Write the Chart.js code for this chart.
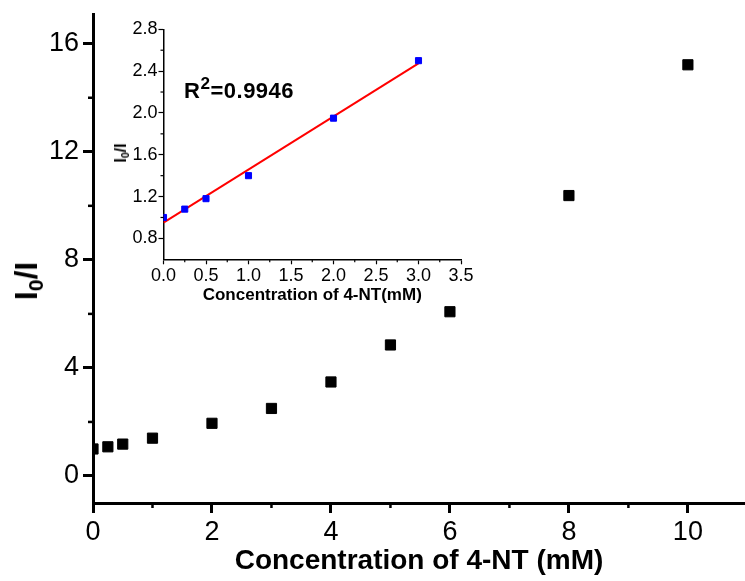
<!DOCTYPE html>
<html><head><meta charset="utf-8">
<script src="https://cdn.jsdelivr.net/npm/chart.js@4.4.0/dist/chart.umd.min.js"></script>
<style>
html,body{margin:0;padding:0;background:#fff;}
#wrap{position:relative;width:745px;height:581px;overflow:hidden;font-family:"Liberation Sans",Arial,sans-serif;}
#main{position:absolute;left:0;top:0;}
#inset{position:absolute;left:100px;top:10px;}
.lbl{position:absolute;font-weight:bold;color:#000;white-space:nowrap;line-height:1;font-family:"Liberation Sans",Arial,sans-serif;}
.lbl sub{font-size:0.66em;vertical-align:baseline;position:relative;top:0.3em;}
.lbl sup{font-size:0.78em;vertical-align:baseline;position:relative;top:-0.55em;}
#ytitle{font-size:32px;left:26px;top:281px;transform:translate(-50%,-50%) rotate(-90deg);}
#iytitle{font-size:16px;left:121px;top:153px;transform:translate(-50%,-50%) rotate(-90deg);}
#r2{font-size:22px;left:184px;top:80px;letter-spacing:0.5px;}
</style></head>
<body>
<div id="wrap">
<canvas id="main" width="745" height="581"></canvas>
<canvas id="inset" width="380" height="300"></canvas>
<div id="ytitle" class="lbl">I<sub>0</sub>/I</div>
<div id="iytitle" class="lbl">I<sub>0</sub>/I</div>
<div id="r2" class="lbl">R<sup>2</sup>=0.9946</div>
</div>
<script>
// ---- data ----
const mainX = [0, 0.25, 0.5, 1, 2, 3, 4, 5, 6, 8, 10];
const mainY = [1.0, 1.08, 1.18, 1.40, 1.95, 2.50, 3.48, 4.85, 6.08, 10.38, 15.22];
const insetX = [0, 0.25, 0.5, 1, 2, 3];
const insetY = [1.0, 1.08, 1.18, 1.40, 1.95, 2.50];
const fitX = [0, 3];
const fitY = [0.95, 2.475];
// ---- ticks ----
const mainXTicks = [0, 2, 4, 6, 8, 10];
const mainXMinor = [1, 3, 5, 7, 9];
const mainYTicks = [0, 4, 8, 12, 16];
const mainYMinor = [2, 6, 10, 14];
const insetXTicks = [0, 0.5, 1.0, 1.5, 2.0, 2.5, 3.0, 3.5];
const insetXMinor = [0.25, 0.75, 1.25, 1.75, 2.25, 2.75, 3.25];
const insetYTicks = [0.8, 1.2, 1.6, 2.0, 2.4, 2.8];
const insetYMinor = [1.0, 1.4, 1.8, 2.2, 2.6];

const FAM = '"Liberation Sans", Arial, sans-serif';
const pts = (xs, ys) => xs.map((x, i) => ({x: x, y: ys[i]}));

const minorTicks = {
  id: 'minorTicks',
  afterDraw(chart, args, o) {
    const ctx = chart.ctx, xs = chart.scales.x, ys = chart.scales.y;
    ctx.save();
    ctx.strokeStyle = '#000';
    ctx.lineWidth = o.width;
    o.x.forEach(v => { const p = xs.getPixelForValue(v); ctx.beginPath(); ctx.moveTo(p, xs.top); ctx.lineTo(p, xs.top + o.len); ctx.stroke(); });
    o.y.forEach(v => { const p = ys.getPixelForValue(v); ctx.beginPath(); ctx.moveTo(ys.right, p); ctx.lineTo(ys.right - o.len, p); ctx.stroke(); });
    ctx.restore();
  }
};

function fixX(h) { return s => { s.height = h; s.paddingLeft = 0; s.paddingRight = 0; }; }
function fixY(w) { return s => { s.width = w; s.paddingTop = 0; s.paddingBottom = 0; }; }
function setTicks(arr) { return s => { s.ticks = arr.map(v => ({value: v})); }; }

new Chart(document.getElementById('main'), {
  type: 'scatter',
  data: { datasets: [{
    data: pts(mainX, mainY),
    pointStyle: 'rect', pointRadius: 7.2, pointHoverRadius: 7.2,
    backgroundColor: '#000', borderColor: '#000', borderWidth: 1,
    clip: {left: 0, top: false, right: false, bottom: false}
  }]},
  options: {
    responsive: false, animation: false, devicePixelRatio: 1,
    layout: { autoPadding: false, padding: {left: 0, top: 14, right: 0, bottom: 0} },
    plugins: { legend: {display: false}, tooltip: {enabled: false},
      minorTicks: {x: mainXMinor, y: mainYMinor, len: 5, width: 2.5} },
    scales: {
      x: { type: 'linear', min: 0, max: 10.96,
        afterBuildTicks: setTicks(mainXTicks), afterFit: fixX(78),
        border: {display: true, width: 3, color: '#000'},
        grid: {display: true, drawOnChartArea: false, drawTicks: true, tickLength: 10, tickWidth: 3, tickColor: '#000'},
        ticks: {color: '#000', font: {family: FAM, size: 27}, padding: 3, maxRotation: 0, autoSkip: false},
        title: {display: true, text: 'Concentration of 4-NT (mM)', color: '#000', font: {family: FAM, size: 28, weight: 'bold'}, padding: {top: 0, bottom: 3}}
      },
      y: { type: 'linear', min: -1, max: 17.1,
        afterBuildTicks: setTicks(mainYTicks), afterFit: fixY(93),
        border: {display: true, width: 3, color: '#000'},
        grid: {display: true, drawOnChartArea: false, drawTicks: true, tickLength: 10, tickWidth: 3, tickColor: '#000'},
        ticks: {color: '#000', font: {family: FAM, size: 27}, padding: 4, autoSkip: false}
      }
    }
  },
  plugins: [minorTicks]
});

new Chart(document.getElementById('inset'), {
  type: 'scatter',
  data: { datasets: [{
    data: pts(insetX, insetY),
    pointStyle: 'rect', pointRadius: 4.3, pointHoverRadius: 4.3,
    backgroundColor: '#0000ff', borderColor: '#0000ff', borderWidth: 1,
    clip: {left: 0, top: false, right: false, bottom: false}
  }, {
    data: pts(fitX, fitY),
    showLine: true, borderColor: '#ff0000', borderWidth: 2, pointRadius: 0, pointHoverRadius: 0
  }]},
  options: {
    responsive: false, animation: false, devicePixelRatio: 1,
    layout: { autoPadding: false, padding: {left: 0, top: 19.3, right: 19, bottom: 0} },
    plugins: { legend: {display: false}, tooltip: {enabled: false},
      minorTicks: {x: insetXMinor, y: insetYMinor, len: 3, width: 1.2} },
    scales: {
      x: { type: 'linear', min: 0, max: 3.5,
        afterBuildTicks: setTicks(insetXTicks), afterFit: fixX(50.7),
        border: {display: true, width: 1.5, color: '#000'},
        grid: {display: true, drawOnChartArea: false, drawTicks: true, tickLength: 5, tickWidth: 1.2, tickColor: '#000'},
        ticks: {color: '#000', font: {family: FAM, size: 18}, padding: 1, maxRotation: 0, autoSkip: false,
          callback: v => v.toFixed(1)},
        title: {display: true, text: 'Concentration of 4-NT(mM)', color: '#000', font: {family: FAM, size: 17, weight: 'bold'}, padding: {top: 0, bottom: 4}}
      },
      y: { type: 'linear', min: 0.6, max: 2.8,
        afterBuildTicks: setTicks(insetYTicks), afterFit: fixY(63.5),
        border: {display: true, width: 1.5, color: '#000'},
        grid: {display: true, drawOnChartArea: false, drawTicks: true, tickLength: 5, tickWidth: 1.2, tickColor: '#000'},
        ticks: {color: '#000', font: {family: FAM, size: 18}, padding: 1, autoSkip: false,
          callback: v => v.toFixed(1)}
      }
    }
  },
  plugins: [minorTicks]
});
</script>
</body></html>
